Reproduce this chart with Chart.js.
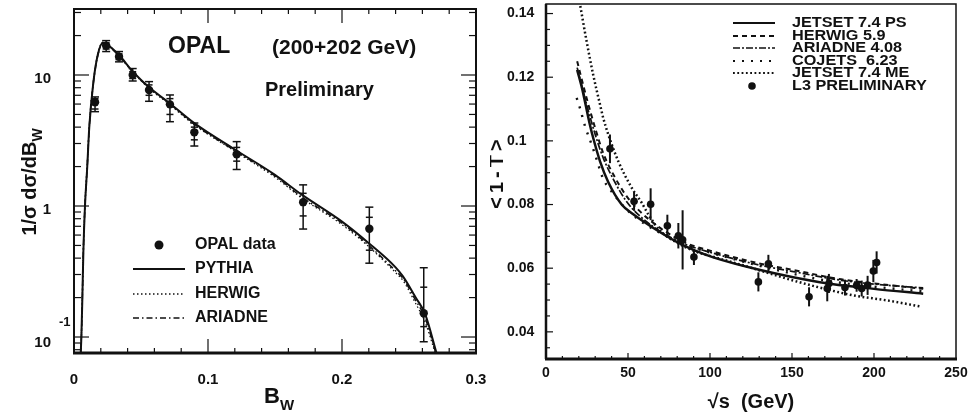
<!DOCTYPE html>
<html>
<head>
<meta charset="utf-8">
<script src="https://cdn.jsdelivr.net/npm/chart.js@4.4.1/dist/chart.umd.min.js"></script>
<style>
  html, body { margin: 0; padding: 0; background: #fff; }
  #wrap { position: relative; width: 971px; height: 414px; }
  canvas { position: absolute; top: 0; }
  #left { left: 0; }
  #right { left: 490px; }
</style>
</head>
<body>
<div id="wrap">
  <canvas id="left" width="490" height="414"></canvas>
  <canvas id="right" width="481" height="414"></canvas>
</div>
<script>
const ink = '#111';
const FONT = '"Liberation Sans", Arial, Helvetica, sans-serif';

// ---- Left panel: OPAL broadening B_W ----
const bwData   = [0.0157, 0.024, 0.0336, 0.0438, 0.056, 0.0716, 0.0898, 0.1214, 0.171, 0.2204, 0.261];
const bwVal    = [6.2, 16.7, 13.8, 10.0, 7.68, 5.97, 3.65, 2.48, 1.07, 0.67, 0.152];
const bwTotLo  = [5.25, 15.1, 12.6, 9.0, 6.3, 4.4, 2.87, 1.9, 0.667, 0.366, 0.092];
const bwTotHi  = [6.8, 18.3, 15.1, 11.2, 8.9, 7.04, 4.3, 3.1, 1.45, 0.98, 0.338];
const bwStatLo = [5.5, 15.8, 13.1, 9.4, 7.0, 5.0, 3.2, 2.2, 0.84, 0.46, 0.12];
const bwStatHi = [6.6, 17.6, 14.5, 10.6, 8.4, 6.6, 4.0, 2.8, 1.25, 0.82, 0.24];

const bwGrid     = [0.005, 0.0055, 0.0062, 0.007, 0.0082, 0.0099, 0.0114, 0.0144, 0.0177, 0.0216, 0.025, 0.0336, 0.044, 0.056, 0.07, 0.09, 0.12, 0.15, 0.17, 0.2, 0.22, 0.24, 0.2455, 0.255, 0.262, 0.2706];
const pythiaVal  = [0.075, 0.1, 0.19, 0.45, 1.0, 2.0, 4.0, 8.7, 14.2, 17.6, 17.0, 14.2, 10.6, 8.05, 6.25, 4.27, 2.7, 1.73, 1.22, 0.76, 0.52, 0.34, 0.29, 0.2, 0.15, 0.075];
const herwigVal  = [0.075, 0.1, 0.2, 0.47, 1.05, 2.1, 4.1, 8.8, 14.4, 17.8, 17.1, 14.1, 10.5, 7.9, 6.1, 4.15, 2.62, 1.66, 1.15, 0.72, 0.49, 0.31, 0.27, 0.18, 0.13, 0.07];
const ariadneVal = [0.075, 0.1, 0.19, 0.46, 1.0, 2.0, 4.0, 8.6, 14.0, 17.5, 16.9, 14.0, 10.5, 8.0, 6.2, 4.2, 2.65, 1.7, 1.17, 0.74, 0.5, 0.32, 0.28, 0.19, 0.14, 0.072];

const bwTickVals   = [0, 0.1, 0.2, 0.3];
const bwTickLabels = ['0', '0.1', '0.2', '0.3'];
const bwYTickVals   = [10, 1];
const bwYTickLabels = ['10', '1'];

// ---- Right panel: L3 <1-T> vs sqrt(s) ----
const l3Energy = [39, 53.7, 63.8, 74, 80.7, 83.3, 90.2, 129.5, 135.6, 160.4, 171.5, 172.5, 182.3, 189.4, 192.5, 196.1, 199.6, 201.6];
const l3Val    = [0.0975, 0.081, 0.0801, 0.0733, 0.0702, 0.0689, 0.0635, 0.0557, 0.0614, 0.051, 0.0536, 0.0552, 0.0539, 0.0546, 0.0536, 0.0546, 0.0591, 0.0618];
const l3Err    = [0.0045, 0.003, 0.005, 0.0035, 0.004, 0.0093, 0.0025, 0.003, 0.0028, 0.003, 0.004, 0.003, 0.0025, 0.002, 0.0025, 0.003, 0.0035, 0.0035];

const psEnergy = [19, 22, 26.8, 29, 33, 38, 46, 53, 65, 80, 91, 102, 130, 167, 200, 230];
const psVal    = [0.1223, 0.1165, 0.105, 0.1005, 0.0935, 0.087, 0.0801, 0.077, 0.0728, 0.0682, 0.0655, 0.0634, 0.0595, 0.0556, 0.0535, 0.052];
const hwEnergy = [19, 25, 30, 35, 41, 49, 57, 70, 85, 100, 130, 150, 180, 200, 230];
const hwVal    = [0.125, 0.113, 0.104, 0.096, 0.0895, 0.0827, 0.078, 0.0725, 0.068, 0.0655, 0.0615, 0.0595, 0.0565, 0.0552, 0.0535];
const arEnergy = [19, 25, 30, 35, 41, 49, 57, 70, 85, 100, 130, 150, 180, 200, 230];
const arVal    = [0.123, 0.111, 0.102, 0.0945, 0.088, 0.081, 0.0765, 0.0715, 0.0675, 0.065, 0.061, 0.059, 0.0562, 0.055, 0.0538];
const coEnergy = [18.7, 20.7, 23.8, 27.8, 29.9, 35, 39, 42, 50, 60, 75, 90, 110, 140, 170, 200, 230];
const coVal    = [0.1135, 0.1103, 0.1046, 0.0989, 0.0957, 0.0879, 0.0848, 0.0827, 0.078, 0.074, 0.0697, 0.0665, 0.0635, 0.0595, 0.0562, 0.0542, 0.0527];
const meEnergy = [20, 24.8, 28.8, 32.9, 35, 38, 44, 52.2, 58.3, 62.3, 69.5, 80, 89.8, 106, 126, 146.8, 167, 187, 207.7, 228];
const meVal    = [0.145, 0.1312, 0.1207, 0.1115, 0.107, 0.102, 0.0937, 0.0853, 0.0806, 0.077, 0.0718, 0.068, 0.0655, 0.063, 0.06, 0.0567, 0.0539, 0.0515, 0.0499, 0.048];

const sTickVals   = [0, 50, 100, 150, 200, 250];
const sTickLabels = ['0', '50', '100', '150', '200', '250'];
const tTickVals   = [0.04, 0.06, 0.08, 0.1, 0.12, 0.14];
const tTickLabels = ['0.04', '0.06', '0.08', '0.1', '0.12', '0.14'];

// ---- helpers ----
const pts = (xs, ys) => xs.map((x, i) => ({ x, y: ys[i] }));

function seg(ctx, x1, y1, x2, y2) {
  ctx.beginPath(); ctx.moveTo(x1, y1); ctx.lineTo(x2, y2); ctx.stroke();
}

function curve(label, xs, ys, width, dash) {
  return {
    label, data: pts(xs, ys),
    borderColor: ink, borderWidth: width, borderDash: dash || [],
    pointRadius: 0, fill: false, cubicInterpolationMode: 'monotone'
  };
}

function markers(label, xs, ys, r) {
  return {
    label, data: pts(xs, ys), showLine: false,
    pointRadius: r, pointBackgroundColor: ink, pointBorderColor: ink, pointBorderWidth: 0
  };
}

function font(size, weight = 'bold') { return `${weight} ${size}px ${FONT}`; }

// ---- left decorations: frame, ticks, labels, legend ----
function drawLeftDecor(chart) {
  const { ctx, chartArea: a, scales: { x, y } } = chart;
  ctx.save();
  ctx.strokeStyle = ink; ctx.fillStyle = ink; ctx.setLineDash([]);

  // error bars (total with caps, stat as inner ticks)
  ctx.lineWidth = 1.5;
  bwData.forEach((b, i) => {
    const px = x.getPixelForValue(b);
    const yHi = y.getPixelForValue(bwTotHi[i]);
    const yLo = Math.min(y.getPixelForValue(bwTotLo[i]), a.bottom);
    seg(ctx, px, yHi, px, yLo);
    seg(ctx, px - 4, yHi, px + 4, yHi);
    seg(ctx, px - 4, yLo, px + 4, yLo);
    [bwStatLo[i], bwStatHi[i]].forEach(v => {
      const py = y.getPixelForValue(v);
      seg(ctx, px - 3.5, py, px + 3.5, py);
    });
  });

  // frame
  ctx.lineWidth = 2;
  ctx.strokeRect(a.left, a.top, a.right - a.left, a.bottom - a.top);
  ctx.lineWidth = 3;
  seg(ctx, a.left - 1, a.bottom, a.right + 1, a.bottom);

  // x ticks (inward, top and bottom)
  ctx.lineWidth = 1.2;
  for (let i = 0; i <= 15; i++) {
    const px = x.getPixelForValue(i * 0.02);
    const len = i % 5 === 0 ? 14 : 5;
    seg(ctx, px, a.bottom, px, a.bottom - len);
    seg(ctx, px, a.top, px, a.top + len);
  }
  // y ticks (log, inward, left and right)
  for (let n = -2; n <= 1; n++) {
    for (let k = 1; k <= 9; k++) {
      const v = k * Math.pow(10, n);
      if (v < y.min || v > y.max) continue;
      const py = y.getPixelForValue(v);
      const len = k === 1 ? 15 : 7;
      seg(ctx, a.left, py, a.left + len, py);
      seg(ctx, a.right, py, a.right - len, py);
    }
  }

  // tick labels
  ctx.font = font(15);
  ctx.textAlign = 'center'; ctx.textBaseline = 'middle';
  bwTickVals.forEach((v, i) => ctx.fillText(bwTickLabels[i], x.getPixelForValue(v), a.bottom + 27));
  ctx.textAlign = 'right';
  bwYTickVals.forEach((v, i) => ctx.fillText(bwYTickLabels[i], 51, y.getPixelForValue(v) + 4));
  const tenth = y.getPixelForValue(0.1);
  ctx.fillText('10', 51, tenth + 6);
  ctx.textAlign = 'left';
  ctx.font = font(13);
  ctx.fillText('-1', 59, tenth - 15);

  // axis titles
  ctx.font = font(22);
  ctx.textAlign = 'left'; ctx.textBaseline = 'alphabetic';
  const bW = ctx.measureText('B').width;
  ctx.fillText('B', 264, 403);
  ctx.font = font(15); ctx.fillText('W', 264 + bW, 410);

  ctx.save();
  ctx.translate(36, 182);
  ctx.rotate(-Math.PI / 2);
  ctx.font = font(20);
  const mainText = '1/\u03c3 d\u03c3/dB';
  const mw = ctx.measureText(mainText).width;
  ctx.font = font(14);
  const sw = ctx.measureText('W').width;
  const x0 = -(mw + sw) / 2;
  ctx.font = font(20); ctx.fillText(mainText, x0, 0);
  ctx.font = font(14); ctx.fillText('W', x0 + mw, 6);
  ctx.restore();

  // annotations
  ctx.textBaseline = 'middle';
  ctx.font = font(23); ctx.fillText('OPAL', 168, 47);
  ctx.font = font(21); ctx.fillText('(200+202 GeV)', 272, 48);
  ctx.font = font(20); ctx.fillText('Preliminary', 265, 90);

  // legend
  ctx.font = font(16);
  ctx.beginPath(); ctx.arc(159, 245, 4.5, 0, Math.PI * 2); ctx.fill();
  ctx.fillText('OPAL data', 195, 245);
  const rows = [['PYTHIA', 269, [], 2], ['HERWIG', 294, [1.5, 2.5], 1.3], ['ARIADNE', 318, [6, 3, 1.5, 3], 1.5]];
  rows.forEach(([name, yy, dash, w]) => {
    ctx.lineWidth = w; ctx.setLineDash(dash);
    seg(ctx, 133, yy, 185, yy);
    ctx.setLineDash([]);
    ctx.fillText(name, 195, yy);
  });
  ctx.restore();
}

// ---- right decorations ----
function drawRightDecor(chart) {
  const { ctx, chartArea: a, scales: { x, y } } = chart;
  ctx.save();
  ctx.strokeStyle = ink; ctx.fillStyle = ink; ctx.setLineDash([]);

  // error bars
  ctx.lineWidth = 2;
  l3Energy.forEach((e, i) => {
    const px = x.getPixelForValue(e);
    seg(ctx, px, y.getPixelForValue(l3Val[i] + l3Err[i]), px, y.getPixelForValue(l3Val[i] - l3Err[i]));
  });

  // frame
  ctx.lineWidth = 1.5;
  ctx.strokeRect(a.left, a.top, a.right - a.left, a.bottom - a.top);
  ctx.lineWidth = 2.5;
  seg(ctx, a.left, a.top, a.left, a.bottom);
  ctx.lineWidth = 3;
  seg(ctx, a.left - 1, a.bottom, a.right + 1, a.bottom);

  // ticks
  ctx.lineWidth = 1.2;
  for (let s = 0; s <= 240; s += 10) {
    const px = x.getPixelForValue(s);
    seg(ctx, px, a.bottom, px, a.bottom - (s % 50 === 0 ? 6 : 3));
  }
  for (let i = 7; i <= 28; i++) {
    const py = y.getPixelForValue(i * 0.005);
    seg(ctx, a.left, py, a.left + (i % 4 === 0 ? 7 : 4), py);
  }

  // tick labels
  ctx.font = font(14);
  ctx.textAlign = 'center'; ctx.textBaseline = 'middle';
  sTickVals.forEach((v, i) => ctx.fillText(sTickLabels[i], x.getPixelForValue(v), a.bottom + 14));
  ctx.textAlign = 'left';
  tTickVals.forEach((v, i) => ctx.fillText(tTickLabels[i], 17, y.getPixelForValue(v)));

  // axis titles
  ctx.font = font(20);
  ctx.textAlign = 'center'; ctx.textBaseline = 'alphabetic';
  ctx.fillText('\u221as  (GeV)', (a.left + a.right) / 2, 408);
  ctx.save();
  ctx.translate(13, 172);
  ctx.rotate(-Math.PI / 2);
  ctx.letterSpacing = '4px';
  ctx.fillText('<1-T>', 0, 0);
  ctx.restore();

  // legend (text slightly stretched like the scanned lettering)
  const lx1 = 243, lx2 = 285, tx = 302;
  const rows = [
    ['JETSET 7.4 PS', 23, [], 2],
    ['HERWIG 5.9', 36, [5, 4], 1.8],
    ['ARIADNE 4.08', 48, [7, 2, 2, 2], 1.5],
    ['COJETS  6.23', 61, [2, 7], 2.2],
    ['JETSET 7.4 ME', 73, [1.8, 2.5], 2]
  ];
  ctx.font = font(14);
  ctx.textAlign = 'left'; ctx.textBaseline = 'middle';
  const label = (t, yy) => {
    ctx.save(); ctx.translate(tx, yy); ctx.scale(1.16, 1); ctx.fillText(t, 0, 0); ctx.restore();
  };
  rows.forEach(([name, yy, dash, w]) => {
    ctx.lineWidth = w; ctx.setLineDash(dash);
    seg(ctx, lx1, yy, lx2, yy);
    ctx.setLineDash([]);
    label(name, yy);
  });
  ctx.beginPath(); ctx.arc(262, 86, 3.8, 0, Math.PI * 2); ctx.fill();
  label('L3 PRELIMINARY', 86);
  ctx.restore();
}

const baseOptions = {
  responsive: false,
  animation: false,
  devicePixelRatio: 1,
  plugins: { legend: { display: false }, tooltip: { enabled: false } },
  elements: { line: { tension: 0 } }
};

// ---- left chart ----
new Chart(document.getElementById('left'), {
  type: 'line',
  data: {
    datasets: [
      markers('OPAL data', bwData, bwVal, 4.2),
      curve('PYTHIA', bwGrid, pythiaVal, 2),
      curve('HERWIG', bwGrid, herwigVal, 1.3, [1.5, 2.5]),
      curve('ARIADNE', bwGrid, ariadneVal, 1.5, [6, 3, 1.5, 3])
    ]
  },
  options: {
    ...baseOptions,
    layout: { padding: { left: 74, right: 14, top: 9, bottom: 61 } },
    scales: {
      x: { type: 'linear', min: 0, max: 0.3, display: false },
      y: { type: 'logarithmic', min: 0.0755, max: 31.9, display: false }
    }
  },
  plugins: [{ id: 'leftDecor', afterDatasetsDraw: drawLeftDecor }]
});

// ---- right chart ----
new Chart(document.getElementById('right'), {
  type: 'line',
  data: {
    datasets: [
      markers('L3 PRELIMINARY', l3Energy, l3Val, 3.8),
      curve('JETSET 7.4 PS', psEnergy, psVal, 2.5),
      curve('HERWIG 5.9', hwEnergy, hwVal, 2, [5, 4]),
      curve('ARIADNE 4.08', arEnergy, arVal, 1.7, [7, 2, 2, 2]),
      curve('COJETS 6.23', coEnergy, coVal, 2.4, [2, 7]),
      curve('JETSET 7.4 ME', meEnergy, meVal, 2.5, [1.8, 2.5])
    ]
  },
  options: {
    ...baseOptions,
    layout: { padding: { left: 56, right: 15, top: 2, bottom: 55 } },
    scales: {
      x: { type: 'linear', min: 0, max: 250, display: false },
      y: { type: 'linear', min: 0.03147, max: 0.1430, display: false }
    }
  },
  plugins: [{ id: 'rightDecor', afterDatasetsDraw: drawRightDecor }]
});
</script>
</body>
</html>
